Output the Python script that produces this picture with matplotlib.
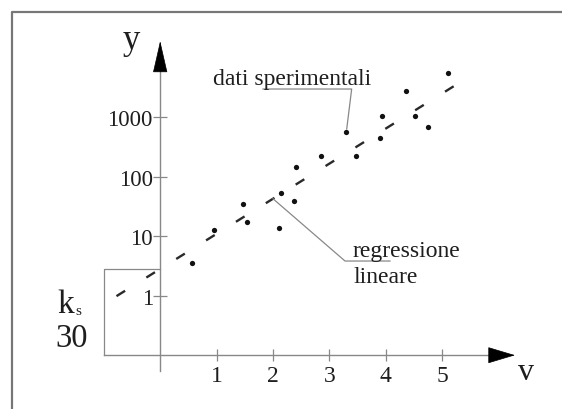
import numpy as np
import matplotlib
matplotlib.use("Agg")
import matplotlib.pyplot as plt
from matplotlib.lines import Line2D

# Experimental data (v, y)
v_data = [0.56, 0.96, 1.46, 1.54, 2.11, 2.14, 2.38, 2.41, 2.86, 3.29,
          3.47, 3.90, 3.93, 4.36, 4.52, 4.74, 5.10]
y_data = [3.6, 12.7, 35, 17.5, 13.7, 53, 39.5, 147, 220, 570,
          220, 442, 1035, 2790, 1035, 684, 5480]

# Linear regression of log10(y) on v
log_intercept = 0.45
log_slope = 0.59

x_ticks = [1, 2, 3, 4, 5]
y_ticks = [1, 10, 100, 1000]
y_tick_labels = ["1", "10", "100", "1000"]

SERIF = "Liberation Serif"
TEXT = "#1e1e1e"
AXIS = "#888888"

plt.rcParams["font.family"] = [SERIF, "DejaVu Serif"]

fig = plt.figure(figsize=(5.62, 4.10), dpi=100)
ax = fig.add_axes([0, 0, 1, 1])
ax.set_yscale("log")
ax.set_xlim(-2.840, 7.124)
ax.set_ylim(10 ** -1.904, 10 ** 4.987)
ax.patch.set_visible(False)

y_base = 0.1
for s in ("top", "right"):
    ax.spines[s].set_visible(False)
ax.spines["left"].set_position(("data", 0))
ax.spines["bottom"].set_position(("data", y_base))
ax.spines["left"].set_bounds(10 ** -1.266, 10 ** 3.80)
ax.spines["bottom"].set_bounds(-0.996, 5.87)
for s in ("left", "bottom"):
    ax.spines[s].set_color(AXIS)
    ax.spines[s].set_linewidth(1.0)

ax.set_xticks(x_ticks)
ax.set_xticklabels([str(t) for t in x_ticks])
ax.set_yticks(y_ticks)
ax.set_yticklabels(y_tick_labels)
ax.yaxis.set_minor_locator(matplotlib.ticker.NullLocator())
ax.tick_params(axis="x", direction="inout", length=8.6, width=0.9,
               color=AXIS, pad=3.0, labelsize=17, labelcolor=TEXT)
ax.tick_params(axis="y", direction="inout", length=10, width=0.9,
               color=AXIS, pad=0.3, labelsize=16.5, labelcolor=TEXT)

# Arrow heads on the axes
ax.annotate("", xy=(0, 10 ** 4.28), xytext=(0, 10 ** 3.78),
            arrowprops=dict(arrowstyle="-|>,head_length=2.1,head_width=0.48",
                            mutation_scale=10, color="black", lw=0.5,
                            shrinkA=0, shrinkB=0))
ax.annotate("", xy=(6.29, y_base), xytext=(5.85, y_base),
            arrowprops=dict(arrowstyle="-|>,head_length=1.8,head_width=0.54",
                            mutation_scale=10, color="black", lw=0.5,
                            shrinkA=0, shrinkB=0))

# Box marking the intercept k_s / 30
k_box = 10 ** log_intercept
ax.plot([-1, -1, 0], [y_base, k_box, k_box], color=AXIS, lw=0.9)

# Regression line
v_fit = np.array([-0.775, 5.22])
y_fit = 10 ** (log_intercept + log_slope * v_fit)
ax.plot(v_fit, y_fit, color="#2a2a2a", lw=1.7,
        linestyle=(0, (4.3, 10.6)), solid_capstyle="butt")

# Experimental points
ax.plot(v_data, y_data, "o", color="#111111", ms=3.8, mew=0)

# Leader for the data label
ax.plot([1.823, 3.395, 3.307], [10 ** 3.474, 10 ** 3.474, 10 ** 2.802],
        color=AXIS, lw=0.9)
ax.text(0.93, 10 ** 3.558, "dati sperimentali", fontsize=17, color=TEXT,
        ha="left", va="baseline")

# Leader for the regression label
v_lead = 2.0
ax.plot([v_lead, 3.277, 4.074],
        [10 ** (log_intercept + log_slope * v_lead), 10 ** 0.583, 10 ** 0.583],
        color=AXIS, lw=0.9)
ax.text(3.418, 10 ** 0.672, "regressione", fontsize=17, color=TEXT,
        ha="left", va="baseline")
ax.text(3.418, 10 ** 0.230, "lineare", fontsize=17, color=TEXT,
        ha="left", va="baseline")

# Axis names
ax.text(-0.52, 10 ** 4.163, "y", fontsize=25, color=TEXT,
        ha="center", va="baseline")
ax.text(6.49, 10 ** -1.40, "v", fontsize=23, color=TEXT,
        ha="center", va="baseline")

# k_s / 30 label
ax.text(-1.83, 10 ** -0.274, "k", fontsize=24, color=TEXT,
        ha="left", va="baseline")
ax.text(-1.50, 10 ** -0.308, "s", fontsize=11, color=TEXT,
        ha="left", va="baseline")
ax.text(-1.85, 10 ** -0.840, "30", fontsize=23.5, color=TEXT,
        ha="left", va="baseline")

# Outer frame (top and left edges)
fx = 12 / 562
fy = 1 - 13.3 / 410
fig.add_artist(Line2D([fx, fx, 1.0], [0.0, fy, fy], transform=fig.transFigure,
                      color="#777777", lw=1.6))

fig.savefig("out.png", dpi=100)
